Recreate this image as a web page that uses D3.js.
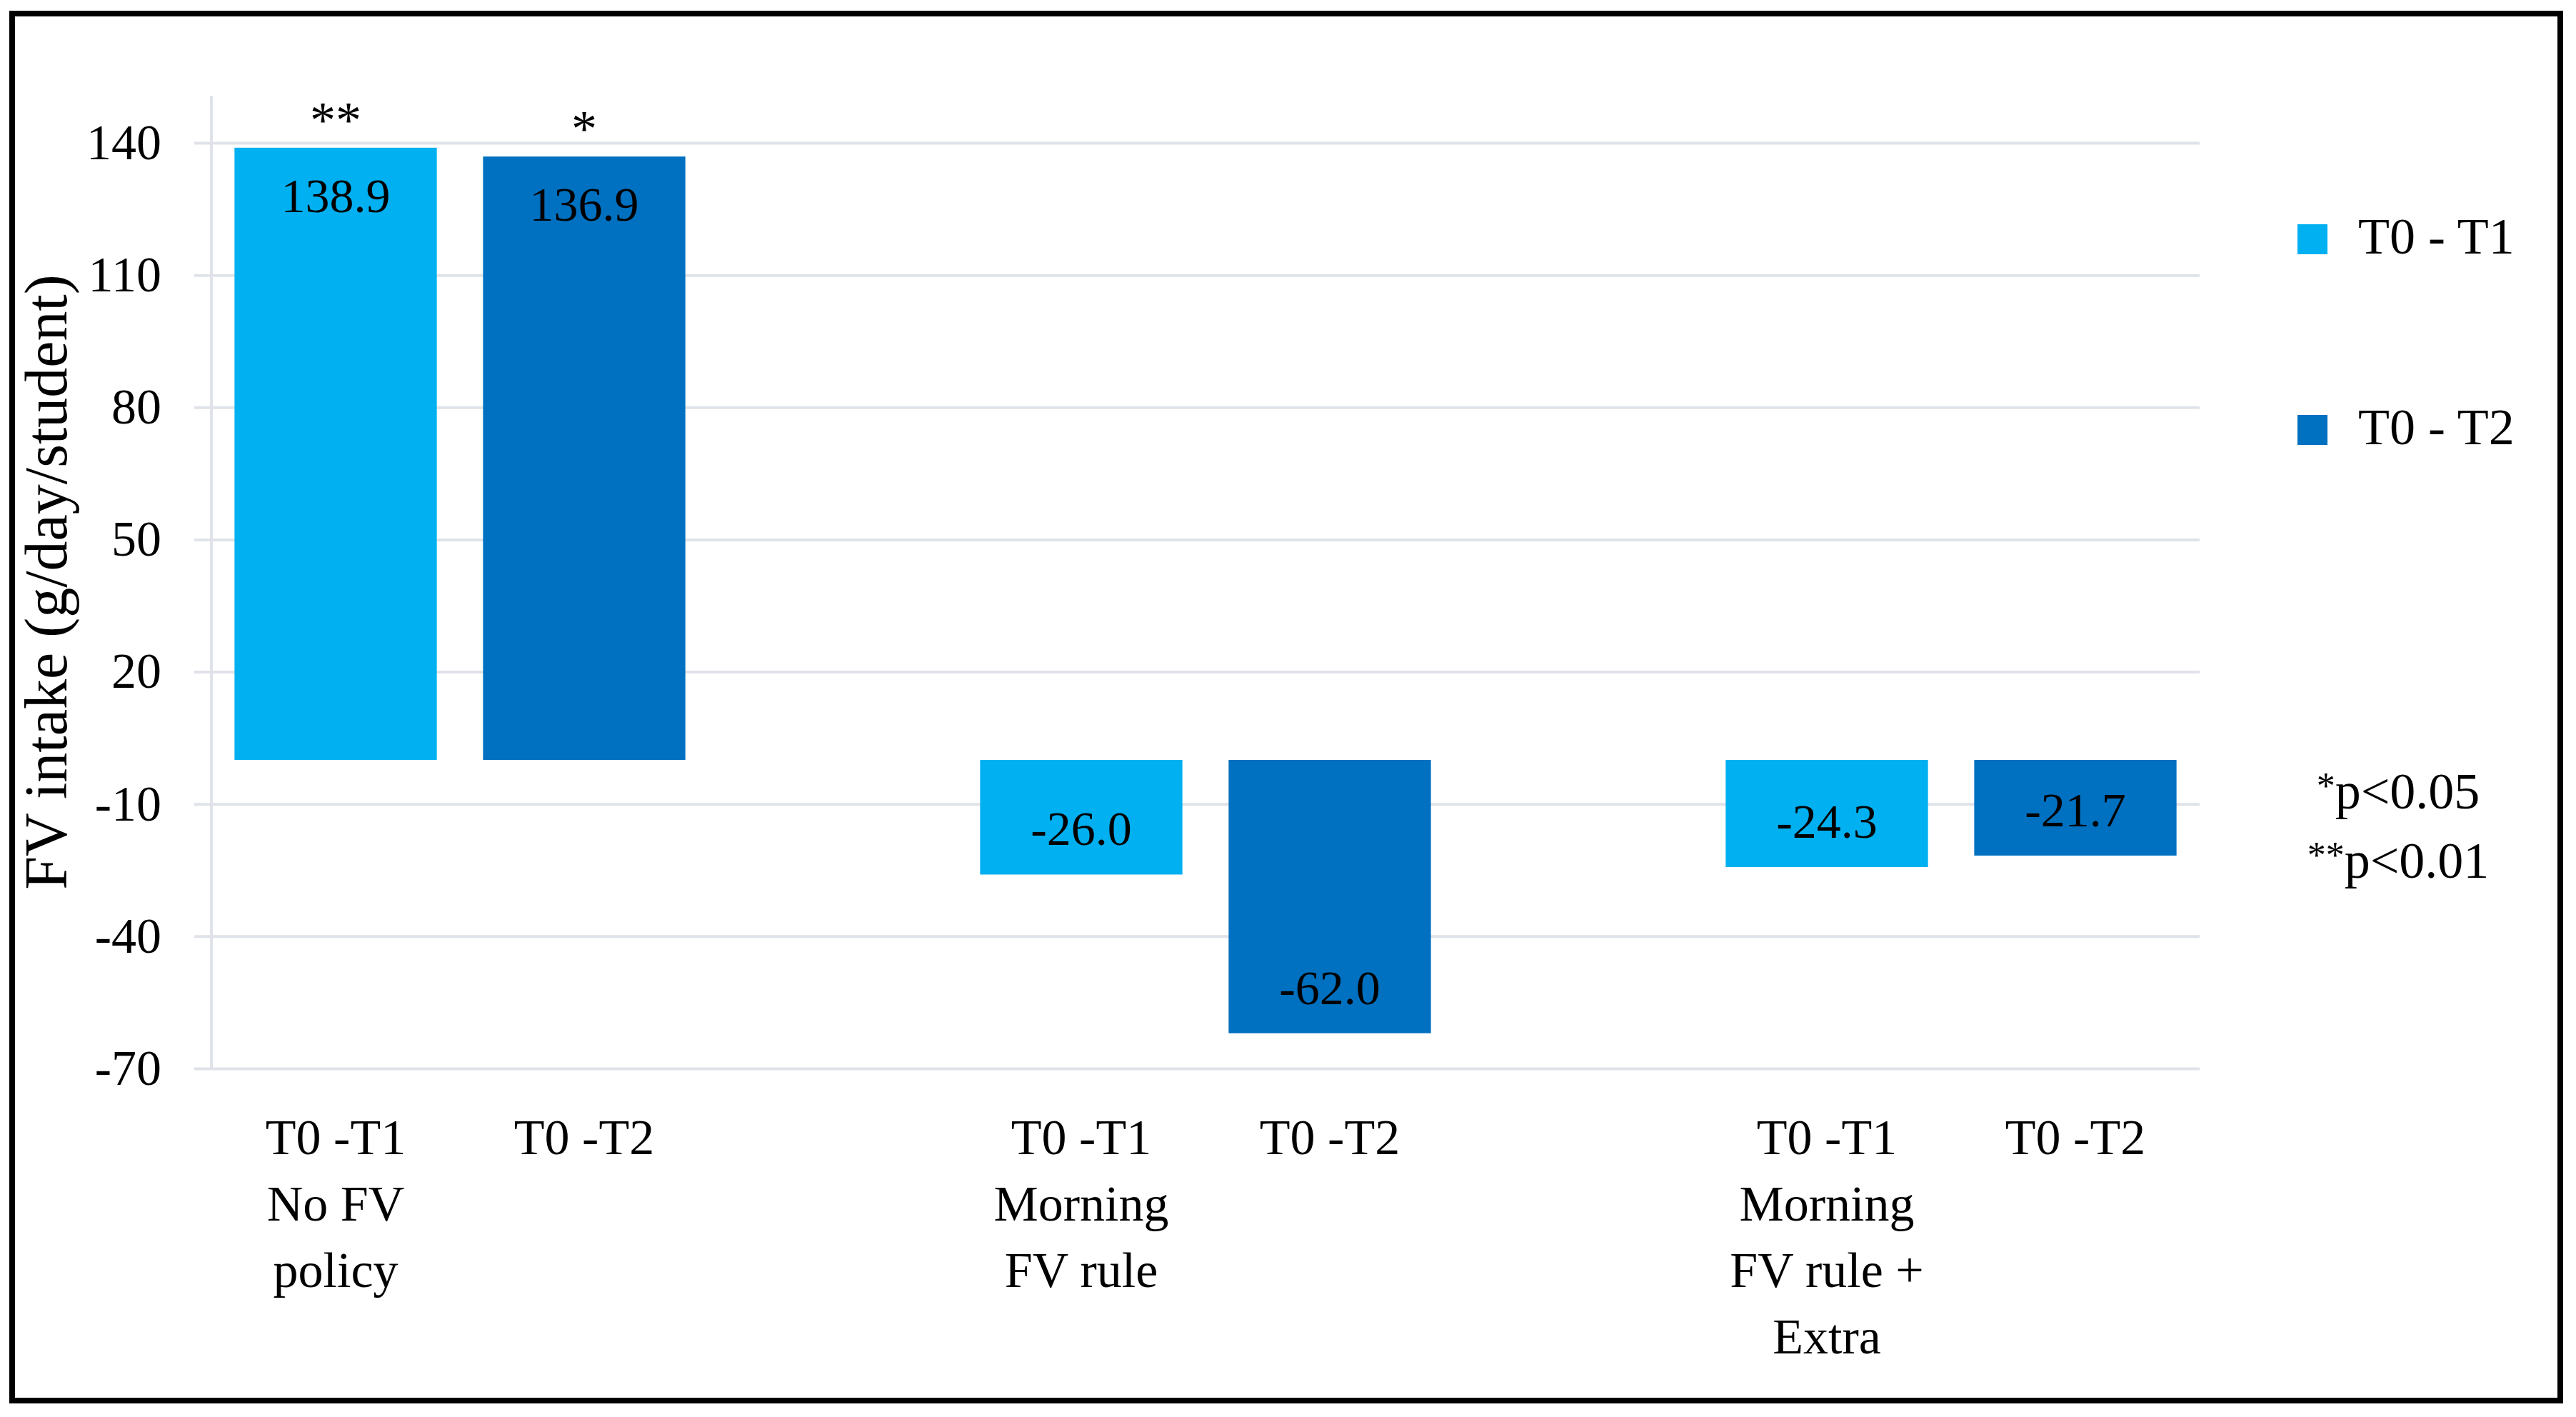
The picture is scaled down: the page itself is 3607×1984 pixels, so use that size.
<!DOCTYPE html>
<html>
<head>
<meta charset="utf-8">
<script src="https://cdn.jsdelivr.net/npm/d3@7/dist/d3.min.js"></script>
<style>
  html, body { margin: 0; padding: 0; background: #ffffff; }
  svg { display: block; }
  text { font-family: "Liberation Serif", "DejaVu Serif", serif; fill: #000; }
</style>
</head>
<body>
<script>
// ---------------- data ----------------
const groupLabelLines = [["No FV", "policy"], ["Morning", "FV rule"], ["Morning", "FV rule +", "Extra"]];
const periodLabels = ["T0 -T1", "T0 -T2"];
const seriesNames = ["T0 - T1", "T0 - T2"];
const seriesColors = ["#00B0F0", "#0070C0"];
const t1Values = [138.9, -26.0, -24.3];
const t2Values = [136.9, -62.0, -21.7];
const t1Sig = ["**", "", ""];
const t2Sig = ["*", "", ""];
const yTicks = [-70, -40, -10, 20, 50, 80, 110, 140];
const yDomain = [-70, 150.7];
const yTitle = "FV intake (g/day/student)";
const footnotes = [["*", "p<0.05"], ["**", "p<0.01"]];

// ---------------- layout ----------------
const W = 3607, H = 1984;
const plot = { left: 296, right: 3080, top: 134, bottom: 1496 };
const FONT = 70;
const loc = d3.formatLocale({ decimal: ".", thousands: ",", grouping: [3], currency: ["", ""], minus: "-" });
const fmtInt = loc.format("d");
const fmt1 = loc.format(".1f");

const svg = d3.select("body").append("svg").attr("width", W).attr("height", H);
svg.append("rect").attr("width", W).attr("height", H).attr("fill", "#fff");

// build slot list (two bars per group, blank slot between groups)
const seriesVals = [t1Values, t2Values];
const seriesSig = [t1Sig, t2Sig];
const slots = [];
const bars = [];
groupLabelLines.forEach((lines, g) => {
  [0, 1].forEach(s => {
    const key = g + "-" + s;
    slots.push(key);
    bars.push({
      key, s,
      value: seriesVals[s][g],
      sig: seriesSig[s][g],
      lines: s === 0 ? [periodLabels[0]].concat(lines) : [periodLabels[1]]
    });
  });
  if (g < groupLabelLines.length - 1) slots.push("gap" + g);
});

const x = d3.scaleBand().domain(slots).range([plot.left, plot.right])
  .paddingInner(0.186).paddingOuter(0.093);
const y = d3.scaleLinear().domain(yDomain).range([plot.bottom, plot.top]);

// gridlines + tick labels (axis placed at right edge, ticks extending left)
const gridColor = "#DFE3E9";
const tickExt = 24;
const yAxis = d3.axisLeft(y).tickValues(yTicks)
  .tickSize(plot.right - plot.left + tickExt).tickPadding(46)
  .tickFormat(fmtInt);
const gy = svg.append("g").attr("transform", `translate(${plot.right},0)`).call(yAxis);
gy.select(".domain").remove();
gy.selectAll(".tick line").attr("stroke", gridColor).attr("stroke-width", 4);
gy.selectAll(".tick text").attr("font-size", FONT).attr("font-family", "Liberation Serif").attr("fill", "#000");

// vertical value axis line
svg.append("line")
  .attr("x1", plot.left).attr("x2", plot.left)
  .attr("y1", plot.top).attr("y2", y(yTicks[0]))
  .attr("stroke", gridColor).attr("stroke-width", 4);

// bars
svg.append("g").selectAll("rect").data(bars).join("rect")
  .attr("x", d => x(d.key))
  .attr("width", x.bandwidth())
  .attr("y", d => y(Math.max(0, d.value)))
  .attr("height", d => Math.abs(y(d.value) - y(0)))
  .attr("fill", d => seriesColors[d.s]);

// value labels (inside end)
svg.append("g").selectAll("text").data(bars).join("text")
  .attr("x", d => x(d.key) + x.bandwidth() / 2)
  .attr("y", d => d.value >= 0 ? y(d.value) + 90 : y(d.value) - 41)
  .attr("text-anchor", "middle")
  .attr("font-size", 68)
  .text(d => fmt1(d.value));

// significance marks
svg.append("g").selectAll("text").data(bars.filter(d => d.sig)).join("text")
  .attr("x", d => x(d.key) + x.bandwidth() / 2)
  .attr("y", d => y(d.value) - 15)
  .attr("text-anchor", "middle")
  .attr("font-size", 72)
  .text(d => d.sig);

// category labels
const cat = svg.append("g").selectAll("text").data(bars).join("text")
  .attr("text-anchor", "middle")
  .attr("font-size", FONT)
  .attr("x", d => x(d.key) + x.bandwidth() / 2)
  .attr("y", y(yTicks[0]) + 120);
cat.selectAll("tspan").data(d => d.lines.map(l => ({ l, cx: x(d.key) + x.bandwidth() / 2 }))).join("tspan")
  .attr("x", t => t.cx)
  .attr("dy", (t, i) => i === 0 ? 0 : 93)
  .text(t => t.l);

// y-axis title
svg.append("text")
  .attr("transform", `translate(93,${(plot.top + plot.bottom) / 2}) rotate(-90)`)
  .attr("text-anchor", "middle")
  .attr("font-size", 84)
  .text(yTitle);

// legend
const legY = [335, 602];
const leg = svg.append("g").selectAll("g").data(seriesNames).join("g")
  .attr("transform", (d, i) => `translate(3217,${legY[i]})`);
leg.append("rect").attr("x", 0).attr("y", -21).attr("width", 42).attr("height", 42)
  .attr("fill", (d, i) => seriesColors[i]);
leg.append("text").attr("x", 85).attr("y", 20).attr("font-size", 72).text(d => d);

// footnotes
const fnY = [1132, 1229];
const fn = svg.append("g").selectAll("text").data(footnotes).join("text")
  .attr("x", 3358).attr("y", (d, i) => fnY[i])
  .attr("text-anchor", "middle")
  .attr("font-size", 72);
fn.append("tspan").attr("font-size", 52).attr("dy", -14).text(d => d[0]);
fn.append("tspan").attr("dy", 14).text(d => d[1]);

// outer frame
svg.append("rect").attr("x", 17).attr("y", 19).attr("width", 3568).attr("height", 1942)
  .attr("fill", "none").attr("stroke", "#000").attr("stroke-width", 8);
</script>
</body>
</html>
